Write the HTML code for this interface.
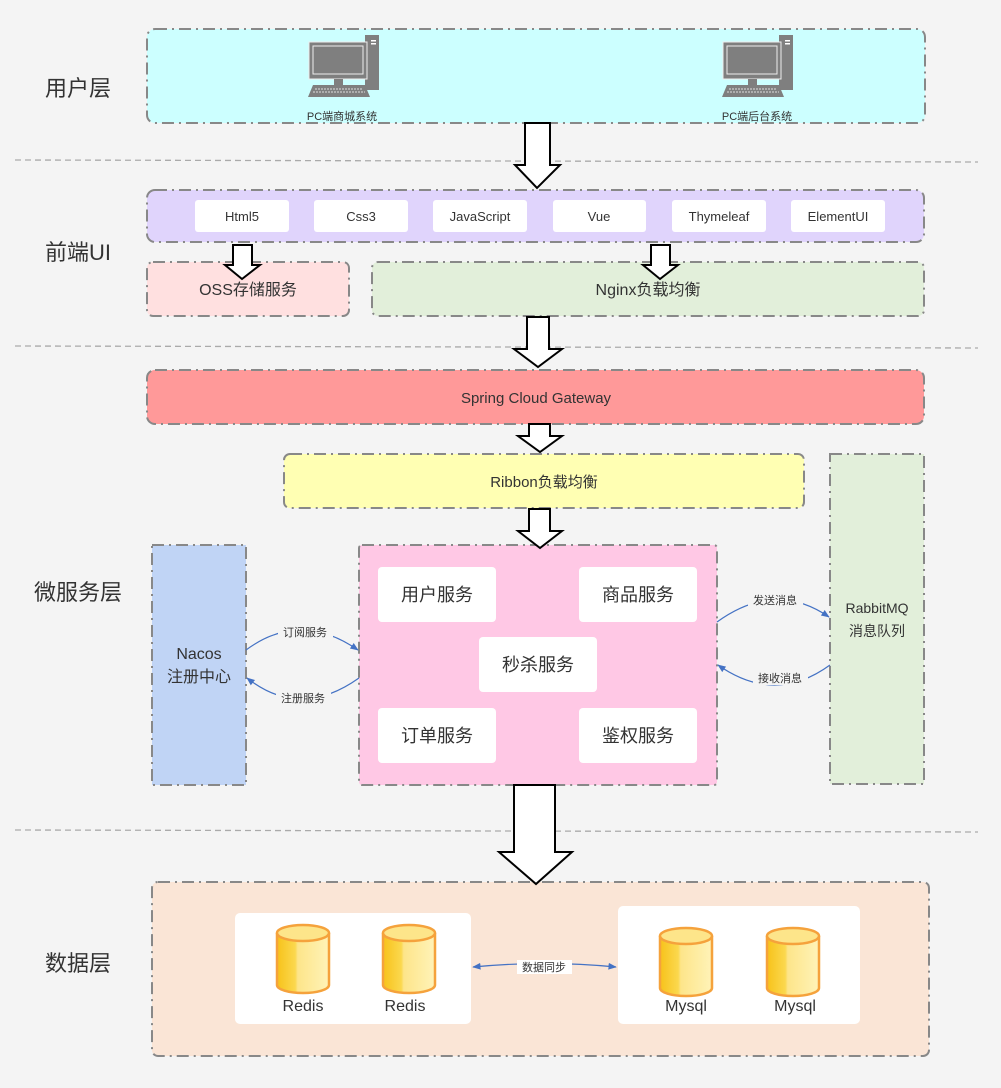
<!DOCTYPE html>
<html><head><meta charset="utf-8"><style>
html,body{margin:0;padding:0;background:#f4f4f4}
svg{display:block;font-family:"Liberation Sans","Noto Sans CJK SC",sans-serif}
</style></head><body>
<svg width="1001" height="1088" viewBox="0 0 1001 1088" xmlns="http://www.w3.org/2000/svg">
<defs>
<linearGradient id="cy" x1="0" x2="1" y1="0" y2="0">
<stop offset="0" stop-color="#f7c21a"/><stop offset="0.35" stop-color="#fbd84e"/><stop offset="0.4" stop-color="#fde58a"/><stop offset="1" stop-color="#fff3b8"/>
</linearGradient>
<marker id="ah" viewBox="0 0 10 10" refX="9" refY="5" markerWidth="7" markerHeight="7" orient="auto-start-reverse"><path d="M0,1 L10,5 L0,9 Z" fill="#4472c4"/></marker>
<g id="pc">
<rect x="56" y="0" width="14" height="55" fill="#7f7f7f"/>
<rect x="62" y="5" width="5" height="1.5" fill="#fff"/><rect x="62" y="8" width="5" height="1.5" fill="#fff"/>
<rect x="0" y="7" width="58" height="37" fill="#7f7f7f" stroke="#eee" stroke-width="1"/>
<rect x="4" y="11" width="50" height="28" fill="#7f7f7f" stroke="#eee" stroke-width="1"/>
<rect x="25" y="44" width="9" height="6" fill="#7f7f7f"/>
<path d="M4,50 L56,50 L61,62 L-1,62 Z" fill="#7f7f7f"/>
<path d="M6,54 H54 M4,57 H56" stroke="#ddd" stroke-width="1" stroke-dasharray="2 1"/>
</g>
<g id="cyl">
<path d="M-26,8 V60 A26,8 0 0 0 26,60 V8" fill="url(#cy)" stroke="#f5a23c" stroke-width="2.5"/>
<ellipse cx="0" cy="8" rx="26" ry="8" fill="#fde58a" stroke="#f5a23c" stroke-width="2.5"/>
</g>
</defs>
<g stroke="#888" stroke-width="2" stroke-dasharray="12 5 2 5">
<rect x="147" y="29" width="778" height="94" rx="8" fill="#ccffff"/>
<rect x="147" y="190" width="777" height="52" rx="8" fill="#e0d4fc"/>
<rect x="147" y="262" width="202" height="54" rx="6" fill="#ffe0e0"/>
<rect x="372" y="262" width="552" height="54" rx="6" fill="#e2efda"/>
<rect x="147" y="370" width="777" height="54" rx="8" fill="#ff9999"/>
<rect x="284" y="454" width="520" height="54" rx="6" fill="#ffffb3"/>
<rect x="830" y="454" width="94" height="330" fill="#e2efda"/>
<rect x="152" y="545" width="94" height="240" fill="#c0d4f5"/>
<rect x="359" y="545" width="358" height="240" rx="3" fill="#ffc8e5"/>
<rect x="152" y="882" width="777" height="174" rx="6" fill="#fae5d6"/>
</g>
<g stroke="#aaa" stroke-width="1.3" stroke-dasharray="6 4">
<line x1="15" y1="160" x2="978" y2="162"/><line x1="15" y1="346" x2="978" y2="348"/><line x1="15" y1="830" x2="978" y2="832"/>
</g>
<g font-size="22" fill="#333" text-anchor="middle">
<text x="78" y="96">用户层</text><text x="78" y="260">前端UI</text><text x="78" y="600">微服务层</text><text x="78" y="971">数据层</text>
</g>
<use href="#pc" x="309" y="35"/><use href="#pc" x="723" y="35"/>
<g font-size="11" fill="#333" text-anchor="middle"><text x="342" y="120">PC端商城系统</text><text x="757" y="120">PC端后台系统</text></g>
<g fill="#fff">
<rect x="195" y="200" width="94" height="32" rx="3"/><rect x="314" y="200" width="94" height="32" rx="3"/><rect x="433" y="200" width="94" height="32" rx="3"/>
<rect x="553" y="200" width="93" height="32" rx="3"/><rect x="672" y="200" width="94" height="32" rx="3"/><rect x="791" y="200" width="94" height="32" rx="3"/>
</g>
<g font-size="13" fill="#333" text-anchor="middle">
<text x="242" y="221">Html5</text><text x="361" y="221">Css3</text><text x="480" y="221">JavaScript</text><text x="599" y="221">Vue</text><text x="719" y="221">Thymeleaf</text><text x="838" y="221">ElementUI</text>
</g>
<g stroke="#000" stroke-width="2" fill="#fff">
<path d="M525,123 H550 V165 H560 L537,188 L515,165 H525 Z"/>
<path d="M233,245 H252 V265 H260 L242,279 L225,265 H233 Z"/>
<path d="M651,245 H670 V265 H678 L660,279 L643,265 H651 Z"/>
<path d="M527,317 H549 V349 H562 L538,367 L514,349 H527 Z"/>
<path d="M529,424 H550 V436 H562 L540,452 L518,436 H529 Z"/>
<path d="M529,509 H550 V531 H562 L540,548 L518,531 H529 Z"/>
<path d="M514,785 H555 V852 H572 L536,884 L499,852 H514 Z"/>
</g>
<g font-size="16" fill="#333" text-anchor="middle">
<text x="248" y="295">OSS存储服务</text><text x="648" y="295">Nginx负载均衡</text>
</g>
<text x="536" y="403" font-size="15" fill="#333" text-anchor="middle">Spring Cloud Gateway</text>
<text x="544" y="487" font-size="15" fill="#333" text-anchor="middle">Ribbon负载均衡</text>
<g font-size="14" fill="#333" text-anchor="middle"><text x="877" y="613">RabbitMQ</text><text x="877" y="636">消息队列</text></g>
<g font-size="16" fill="#333" text-anchor="middle"><text x="199" y="659">Nacos</text><text x="199" y="682">注册中心</text></g>
<g fill="#fff">
<rect x="378" y="567" width="118" height="55" rx="4"/><rect x="579" y="567" width="118" height="55" rx="4"/>
<rect x="479" y="637" width="118" height="55" rx="4"/>
<rect x="378" y="708" width="118" height="55" rx="4"/><rect x="579" y="708" width="118" height="55" rx="4"/>
</g>
<g font-size="18" fill="#333" text-anchor="middle">
<text x="437" y="601">用户服务</text><text x="638" y="601">商品服务</text><text x="538" y="671">秒杀服务</text>
<text x="437" y="742">订单服务</text><text x="638" y="742">鉴权服务</text>
</g>
<g fill="none" stroke="#4472c4" stroke-width="1.2">
<path d="M246,650 Q300,610 358,650" marker-end="url(#ah)"/>
<path d="M359,678 Q300,720 247,678" marker-end="url(#ah)"/>
<path d="M717,622 Q775,580 829,617" marker-end="url(#ah)"/>
<path d="M830,665 Q775,705 718,665" marker-end="url(#ah)"/>
<path d="M473,967 Q545,960 616,967" marker-start="url(#ah)" marker-end="url(#ah)"/>
</g>
<g font-size="11" fill="#333" text-anchor="middle">
<rect x="278" y="625" width="55" height="14" fill="#f4f4f4"/><text x="305" y="636">订阅服务</text>
<rect x="276" y="691" width="55" height="14" fill="#f4f4f4"/><text x="303" y="702">注册服务</text>
<rect x="748" y="593" width="55" height="14" fill="#f4f4f4"/><text x="775" y="604">发送消息</text>
<rect x="753" y="671" width="55" height="14" fill="#f4f4f4"/><text x="780" y="682">接收消息</text>
<rect x="517" y="960" width="55" height="14" fill="#fff"/><text x="544" y="971">数据同步</text>
</g>
<rect x="235" y="913" width="236" height="111" rx="5" fill="#fff"/>
<rect x="618" y="906" width="242" height="118" rx="5" fill="#fff"/>
<use href="#cyl" x="303" y="925"/><use href="#cyl" x="409" y="925"/>
<use href="#cyl" x="686" y="928"/><use href="#cyl" x="793" y="928"/>
<g font-size="16" fill="#333" text-anchor="middle">
<text x="303" y="1011">Redis</text><text x="405" y="1011">Redis</text><text x="686" y="1011">Mysql</text><text x="795" y="1011">Mysql</text>
</g>
</svg>
</body></html>
